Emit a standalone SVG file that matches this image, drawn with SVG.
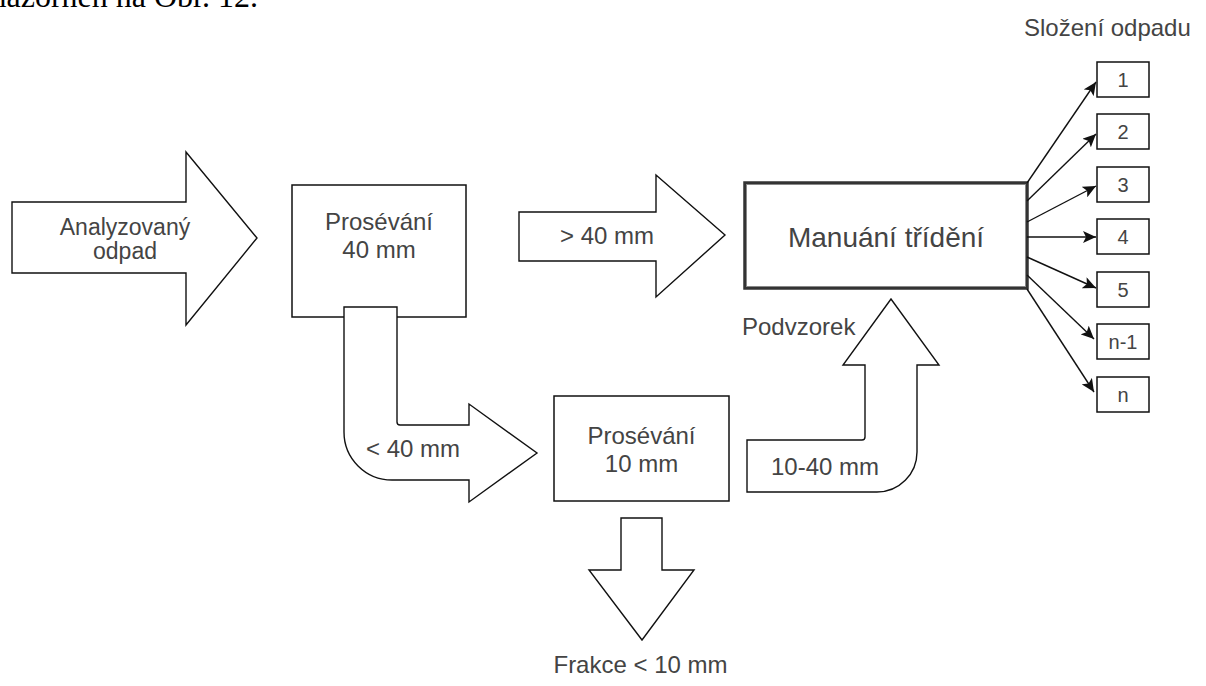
<svg xmlns="http://www.w3.org/2000/svg" width="1206" height="686" viewBox="0 0 1206 686">
<style>
.t{font-family:"Liberation Sans",Arial,sans-serif;fill:#444;}
.shape{fill:#fff;stroke:#111;stroke-width:1.4;}
.box{fill:#fff;stroke:#111;stroke-width:1.5;}
.conn{stroke:#111;stroke-width:1.4;fill:none;}
</style>
<defs>
<marker id="ah" markerUnits="userSpaceOnUse" markerWidth="14" markerHeight="12" refX="13" refY="6" orient="auto">
<path d="M0,0 L13,6 L0,12 L3,6 Z" fill="#111"/>
</marker>
</defs>
<rect width="1206" height="686" fill="#fff"/>
<text x="258" y="7" text-anchor="end" font-family="Liberation Serif,Times New Roman,serif" font-size="32" fill="#000">znázorněn na Obr. 12.</text>

<g id="node-analyzovany">
<polygon class="shape" points="12,202 186,202 186,152 257,238 186,325 186,273 12,273"/>
<text class="t" x="125" y="235" font-size="23" text-anchor="middle" fill="#555">Analyzovaný</text>
<text class="t" x="125" y="259" font-size="23" text-anchor="middle" fill="#555">odpad</text>
</g>

<g id="node-proseavani40">
<rect class="box" x="292" y="185" width="174" height="132"/>
<text class="t" x="379" y="230" font-size="24" text-anchor="middle">Prosévání</text>
<text class="t" x="379" y="258" font-size="24" text-anchor="middle">40 mm</text>
</g>

<g id="node-gt40">
<polygon class="shape" points="519,212 656,212 656,175 725,235 656,297 656,261 519,261"/>
<text class="t" x="607" y="244" font-size="24" text-anchor="middle">&gt; 40 mm</text>
</g>

<g id="node-manualni">
<rect x="745" y="183" width="282" height="105" fill="#fff" stroke="#333" stroke-width="3.5"/>
<rect x="746.5" y="184.5" width="279" height="102" fill="none" stroke="#888" stroke-width="1"/>
<text class="t" x="886" y="247" font-size="28" text-anchor="middle">Manuání třídění</text>
</g>

<g id="node-lt40">
<path class="shape" d="M344,307 L397,307 L397,422 Q397,425 400,425 L469,425 L469,404 L537,453 L469,502 L469,480 L392,480 A48,48 0 0 1 344,432 Z"/>
<text class="t" x="413" y="457" font-size="24" text-anchor="middle">&lt; 40 mm</text>
</g>

<g id="node-proseavani10">
<rect class="box" x="554" y="396" width="175" height="105"/>
<text class="t" x="641.5" y="444" font-size="24" text-anchor="middle">Prosévání</text>
<text class="t" x="641.5" y="472" font-size="24" text-anchor="middle">10 mm</text>
</g>

<g id="node-10-40">
<path class="shape" d="M747,440 L862,440 Q865,440 865,437 L865,365 L843,365 L891,299 L939,365 L917,365 L917,452 A40,40 0 0 1 877,492 L747,492 Z"/>
<text class="t" x="825" y="475" font-size="24" text-anchor="middle">10-40 mm</text>
<text class="t" x="742" y="335" font-size="24">Podvzorek</text>
</g>

<g id="node-frakce">
<polygon class="shape" points="621,518 662,518 662,570 694,570 642,640 589,570 621,570"/>
<text class="t" x="640.5" y="673" font-size="24" text-anchor="middle">Frakce &lt; 10 mm</text>
</g>

<text class="t" x="1024" y="36" font-size="24">Složení odpadu</text>

<g id="node-c1"><rect class="box" x="1097" y="62" width="52" height="35"/><text class="t" x="1123" y="87" font-size="20" text-anchor="middle">1</text></g>
<g id="node-c2"><rect class="box" x="1097" y="114" width="52" height="35"/><text class="t" x="1123" y="139" font-size="20" text-anchor="middle">2</text></g>
<g id="node-c3"><rect class="box" x="1097" y="167" width="52" height="35"/><text class="t" x="1123" y="192" font-size="20" text-anchor="middle">3</text></g>
<g id="node-c4"><rect class="box" x="1097" y="219" width="52" height="35"/><text class="t" x="1123" y="244" font-size="20" text-anchor="middle">4</text></g>
<g id="node-c5"><rect class="box" x="1097" y="272" width="52" height="35"/><text class="t" x="1123" y="297" font-size="20" text-anchor="middle">5</text></g>
<g id="node-cn1"><rect class="box" x="1097" y="324" width="52" height="35"/><text class="t" x="1123" y="349" font-size="20" text-anchor="middle">n-1</text></g>
<g id="node-cn"><rect class="box" x="1097" y="377" width="52" height="35"/><text class="t" x="1123" y="402" font-size="20" text-anchor="middle">n</text></g>

<g id="connectors">
<line class="conn" x1="1027" y1="183" x2="1096" y2="82" marker-end="url(#ah)"/>
<line class="conn" x1="1027" y1="201" x2="1096" y2="134" marker-end="url(#ah)"/>
<line class="conn" x1="1027" y1="222" x2="1096" y2="186" marker-end="url(#ah)"/>
<line class="conn" x1="1027" y1="237" x2="1096" y2="237" marker-end="url(#ah)"/>
<line class="conn" x1="1027" y1="257" x2="1096" y2="288" marker-end="url(#ah)"/>
<line class="conn" x1="1027" y1="275" x2="1094" y2="339" marker-end="url(#ah)"/>
<line class="conn" x1="1027" y1="289" x2="1094" y2="392" marker-end="url(#ah)"/>
</g>
</svg>
